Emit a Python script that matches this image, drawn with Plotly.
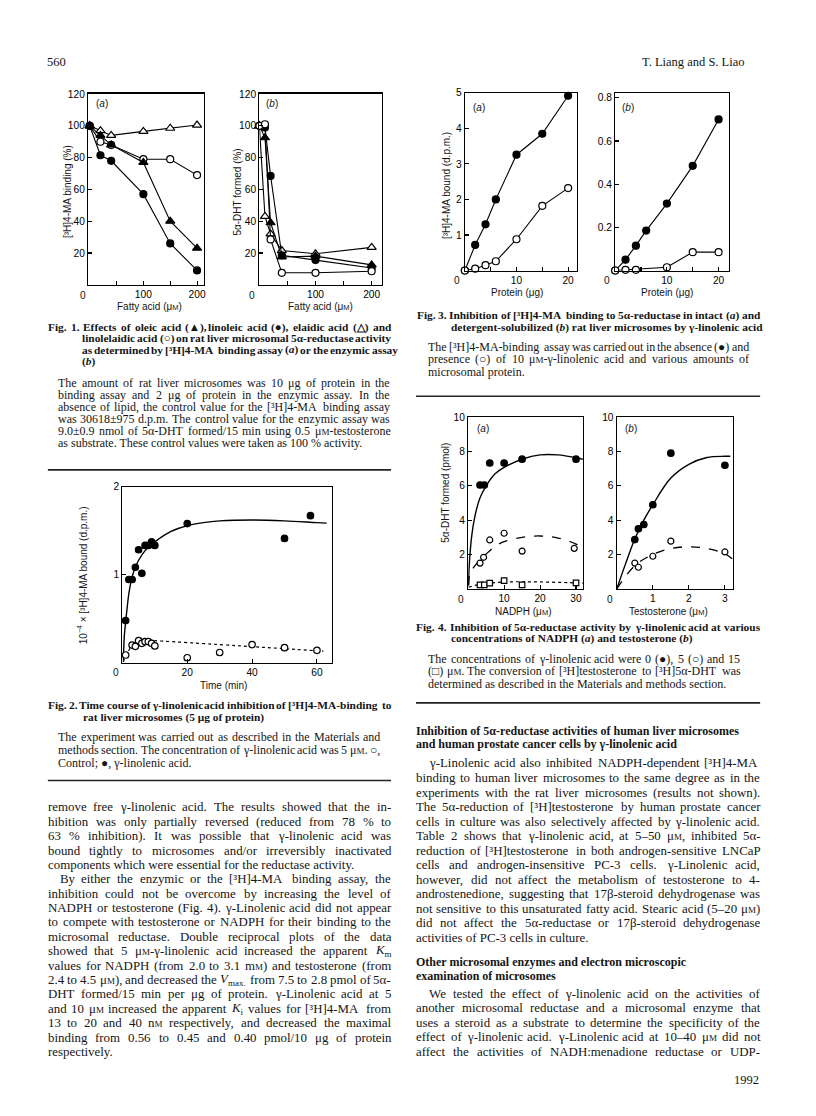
import re
import plotly.graph_objects as go

W, H = 816, 1116

# ---------------- DATA ----------------
# Fig. 1 (a) [3H]4-MA binding (%)
fig1a_acid = [0, 20, 40, 100, 150, 200]
fig1a_oleic = [100, 94, 88, 77, 40, 23]
fig1a_linoleic = [100, 81.5, 78, 57, 26, 9]
fig1a_elaidic = [100, 97, 94, 96.5, 98.5, 100.5]
fig1a_linolelaidic = [100, 90, 88, 79, 79, 69]
# Fig. 1 (b) 5a-DHT formed (%)
fig1b_acid = [0, 10, 20, 40, 100, 200]
fig1b_oleic = [100, 92.5, 39, 17.5, 18, 12.5]
fig1b_linoleic = [100, 99, 68.5, 18.5, 15.5, 10.5]
fig1b_elaidic = [100, 43, 32, 21.5, 19.5, 23.5]
fig1b_linolelaidic = [100, 101, 28.5, 7.5, 7.5, 8.5]

# Fig. 2 time course
fig2_time_gla = [1, 2, 3, 4, 5, 6, 7, 8, 9, 10, 20, 50, 58]
fig2_bound_gla = [0.47, 0.94, 0.94, 1.08, 1.28, 1.01, 1.33, 1.33, 1.37, 1.33, 1.58, 1.41, 1.67]
fig2_time_ctrl = [1, 3, 4, 5, 6, 7, 8, 9, 10, 20, 30, 40, 50, 60]
fig2_bound_ctrl = [0.076, 0.19, 0.175, 0.24, 0.21, 0.23, 0.23, 0.21, 0.18, 0.045, 0.105, 0.195, 0.16, 0.13]
fig2_curve_gla_t = [0.3, 0.6, 1, 2, 3, 4, 5, 7, 10, 15, 20, 25, 30, 40, 50, 60, 63]
fig2_curve_gla_y = [0.0, 0.3, 0.45, 0.78, 0.97, 1.08, 1.16, 1.27, 1.37, 1.49, 1.555, 1.59, 1.61, 1.62, 1.61, 1.59, 1.585]
fig2_curve_ctrl_t = [0.3, 1, 2, 3, 5, 7, 10, 62]
fig2_curve_ctrl_y = [0.0, 0.07, 0.13, 0.18, 0.23, 0.245, 0.24, 0.12]

# Fig. 3 protein titration
fig3_protein = [0, 2, 4, 6, 10, 15, 20]
fig3a_absent = [0, 0.72, 1.3, 2.0, 3.26, 3.85, 4.92]
fig3a_present = [0, 0.05, 0.15, 0.26, 0.88, 1.82, 2.32]
fig3b_absent = [0, 0.05, 0.115, 0.185, 0.31, 0.485, 0.70]
fig3b_protein_present = [0, 2, 4, 10, 15, 20]
fig3b_present = [0, 0.003, 0.003, 0.015, 0.085, 0.085]

# Fig. 4 (a) NADPH
fig4a_nadph_0 = [3.3, 4.5, 6, 10, 15, 30]
fig4a_dht_0 = [6.05, 6.05, 7.33, 7.33, 7.55, 7.55]
fig4a_nadph_5 = [3.3, 4.3, 6, 10, 15, 29.5]
fig4a_dht_5 = [1.5, 1.84, 2.85, 3.24, 2.2, 2.36]
fig4a_nadph_15 = [3.3, 4.5, 6, 10, 15, 30]
fig4a_dht_15 = [0.23, 0.23, 0.33, 0.48, 0.23, 0.35]
fig4a_curve0_x = [0.1, 0.3, 1, 1.9, 3.2, 5, 7.5, 10, 15, 20, 25, 30, 31.9]
fig4a_curve0_y = [0.2, 1.35, 3.1, 4.25, 5.25, 6.0, 6.7, 7.07, 7.55, 7.8, 7.8, 7.64, 7.55]
fig4a_curve5_x = [0.1, 0.55, 1.9, 3.2, 5, 7.5, 10, 15, 20, 25, 30, 31.9]
fig4a_curve5_y = [0.2, 0.9, 1.35, 1.65, 2.03, 2.48, 2.75, 3.0, 3.08, 2.96, 2.61, 2.33]
fig4a_curve15_x = [0.1, 3, 10, 30, 31.9]
fig4a_curve15_y = [0.1, 0.25, 0.4, 0.35, 0.33]

# Fig. 4 (b) testosterone
fig4b_testo_0 = [0.5, 0.6, 0.75, 1.0, 1.5, 3.0]
fig4b_dht_0 = [2.87, 3.5, 3.75, 4.9, 7.9, 7.2]
fig4b_testo_5 = [0.5, 0.6, 1.0, 1.5, 3.0]
fig4b_dht_5 = [1.5, 1.26, 1.9, 2.78, 2.15]
fig4b_curve0_x = [0.0, 0.25, 0.5, 0.75, 1.0, 1.5, 2.0, 2.5, 3.0, 3.15]
fig4b_curve0_y = [0.0, 1.5, 2.9, 4.0, 4.9, 6.45, 7.25, 7.65, 7.72, 7.72]
fig4b_curve5_x = [0.0, 0.5, 1.0, 1.5, 2.0, 2.5, 3.0, 3.2]
fig4b_curve5_y = [0.0, 1.35, 2.0, 2.35, 2.45, 2.35, 2.05, 1.75]

# ---------------- STYLE HELPERS ----------------
SERIF = "Liberation Serif, Times New Roman, serif"
SANS = "Liberation Sans, Arial, sans-serif"
INK = "#151515"
M = '<span style="font-size:7.5px">M</span>'     # small-capital M (molar), figure labels
Ms = '<span style="font-size:9px">M</span>'      # small-capital M, running text
TICK = 10.2
ATI = 10.0

# Times-compatible advance widths (1/1000 em), used to justify the running text
_REG = dict(zip("abcdefghijklmnopqrstuvwxyz",
                [444, 500, 444, 500, 444, 333, 500, 500, 278, 278, 500, 278, 778, 500, 500, 500, 500,
                 333, 389, 278, 500, 500, 722, 500, 500, 444]))
_REG.update(zip("ABCDEFGHIJKLMNOPQRSTUVWXYZ",
                [722, 667, 667, 722, 611, 556, 722, 722, 333, 389, 722, 611, 889, 722, 722, 556, 722,
                 667, 556, 611, 722, 722, 944, 722, 722, 611]))
_BOLD = dict(zip("abcdefghijklmnopqrstuvwxyz",
                 [500, 556, 444, 556, 444, 333, 500, 556, 278, 333, 556, 278, 833, 556, 500, 556, 556,
                  444, 389, 333, 556, 500, 722, 500, 500, 444]))
_BOLD.update(zip("ABCDEFGHIJKLMNOPQRSTUVWXYZ",
                 [722, 667, 722, 722, 667, 611, 778, 778, 389, 500, 778, 667, 944, 722, 778, 611, 778,
                  722, 556, 667, 722, 722, 1000, 722, 722, 667]))
_PUNCT = {" ": 250, ".": 250, ",": 250, "-": 333, "(": 333, ")": 333, "[": 333, "]": 333,
          "/": 278, ":": 278, ";": 278, "%": 833, "±": 564, "–": 500, "γ": 440, "μ": 520,
          "α": 530, "β": 500, "³": 300, "●": 604, "○": 604, "□": 604, "▲": 722, "△": 722}


def _cw(c, bold):
    if c.isdigit():
        return 500
    if c in _PUNCT:
        return _PUNCT[c]
    return (_BOLD if bold else _REG).get(c, 500)


def measure(html, size, bold=False):
    sub, spans = 0, []
    w = 0.0
    for tok in re.split(r"(<[^>]+>)", html):
        if tok.startswith("<"):
            t = tok.lower()
            if t.startswith("<sub>") or t.startswith("<sup>"):
                sub += 1
            elif t.startswith("</sub>") or t.startswith("</sup>"):
                sub -= 1
            elif t.startswith("<span"):
                mm = re.search(r"font-size:([\d.]+)px", tok)
                spans.append(float(mm.group(1)) if mm else None)
            elif t.startswith("</span"):
                spans.pop()
            continue
        s = size
        for v in spans:
            if v:
                s = v
        if sub:
            s *= 0.7
        for c in tok:
            w += _cw(c, bold) * s / 1000.0
    return w


def split_words(html):
    words, cur, intag = [], "", False
    for c in html:
        if c == "<":
            intag = True
        elif c == ">":
            intag = False
        if c == " " and not intag:
            if cur:
                words.append(cur)
            cur = ""
        else:
            cur += c
    if cur:
        words.append(cur)
    return words


fig = go.Figure()
layout = {}
annotations = []
shapes = []


def ann(text, x, y, size=12, family=SERIF, anchor="left", angle=0, color=INK):
    annotations.append(dict(text=text, x=x / W, y=1 - y / H, xref="paper", yref="paper",
                            xanchor=anchor, yanchor="middle", showarrow=False,
                            borderpad=0, borderwidth=0,
                            textangle=angle, font=dict(family=family, size=size, color=color)))


def jline(text, x0, x1, y, size, justify=True, bold=False):
    """A line of running text from x0; justified lines are spread word by word to end at x1."""
    wrap = (lambda s: "<b>" + s + "</b>") if bold else (lambda s: s)
    words = split_words(text)
    if not justify or len(words) < 2:
        ann(wrap(text), x0, y, size)
        return
    widths = [measure(w, size, bold) for w in words]
    gap = max(2.0, (x1 - x0 - sum(widths)) / (len(words) - 1))
    x = x0
    for w, wd in zip(words, widths):
        ann(wrap(w), x, y, size)
        x += wd + gap


def rule(x0, x1, y):
    shapes.append(dict(type="line", xref="paper", yref="paper", x0=x0 / W, x1=x1 / W,
                       y0=1 - y / H, y1=1 - y / H, line=dict(color="#222", width=1.6)))


def panel(i, box, xr, yr, xt, xminor, yt, yminor=None):
    x0, x1, y0, y1 = box
    sx = "" if i == 1 else str(i)
    common = dict(showline=True, linecolor="black", linewidth=1.2, mirror=True,
                  ticks="inside", ticklen=4, tickcolor="black", tickwidth=1.1,
                  showgrid=False, zeroline=False, ticklabelstandoff=0,
                  tickfont=dict(family=SANS, size=TICK, color="black"))
    xa = dict(domain=[x0 / W, x1 / W], anchor="y" + sx, range=xr,
              tickmode="array", tickvals=xt, ticktext=[f"{v:g}" for v in xt], **common)
    if xminor:
        xa["minor"] = dict(tickmode="array", tickvals=xminor, ticks="inside", ticklen=4,
                           tickcolor="black", tickwidth=1.1, showgrid=False)
    ya = dict(domain=[1 - y1 / H, 1 - y0 / H], anchor="x" + sx, range=yr,
              tickmode="array", tickvals=yt, ticktext=[f"{v:g}" for v in yt], **common)
    if yminor:
        ya["minor"] = dict(tickmode="array", tickvals=yminor, ticks="inside", ticklen=4,
                           tickcolor="black", tickwidth=1.1, showgrid=False)
    layout["xaxis" + sx] = xa
    layout["yaxis" + sx] = ya
    return "x" + sx, "y" + sx


def series(ax, x, y, symbol, filled, size=7, mode="lines+markers", lw=1.1):
    fig.add_trace(go.Scatter(
        x=x, y=y, xaxis=ax[0], yaxis=ax[1], mode=mode, cliponaxis=False,
        line=dict(color="black", width=lw),
        marker=dict(symbol=symbol, size=size, color="black" if filled else "white",
                    line=dict(color="black", width=1.2)),
        showlegend=False, hoverinfo="skip"))


def curve(ax, x, y, dash="solid", lw=1.3):
    fig.add_trace(go.Scatter(
        x=x, y=y, xaxis=ax[0], yaxis=ax[1], mode="lines", line_shape="spline",
        line=dict(color="black", width=lw, dash=dash), showlegend=False, hoverinfo="skip"))


# ---------------- FIG 1 ----------------
ax1a = panel(1, (88.3, 204, 89, 281), [-3, 212], [0, 120.3],
             [100, 200], [50, 150], [20, 40, 60, 80, 100, 120])
ax1b = panel(2, (260, 382.7, 89, 281), [0, 218], [0, 120.3],
             [100, 200], [50, 150], [20, 40, 60, 80, 100, 120])
series(ax1a, fig1a_acid, fig1a_elaidic, "triangle-up", False, 8)
series(ax1a, fig1a_acid, fig1a_linolelaidic, "circle", False, 7)
series(ax1a, fig1a_acid, fig1a_oleic, "triangle-up", True, 8)
series(ax1a, fig1a_acid, fig1a_linoleic, "circle", True, 7)
series(ax1b, fig1b_acid, fig1b_elaidic, "triangle-up", False, 8)
series(ax1b, fig1b_acid, fig1b_oleic, "triangle-up", True, 8)
series(ax1b, fig1b_acid, fig1b_linoleic, "circle", True, 7)
series(ax1b, fig1b_acid, fig1b_linolelaidic, "circle", False, 7)
ann("(<i>a</i>)", 96, 99, 10, SANS)
ann("(<i>b</i>)", 267, 99, 10, SANS)
ann("0", 83, 291.5, TICK, SANS, "center")
ann("0", 253, 291.5, TICK, SANS, "center")
ann("[³H]4-MA binding (%)", 67, 187, ATI, SANS, "center", -90)
ann("5α-DHT formed (%)", 238, 188, ATI, SANS, "center", -90)
ann("Fatty acid (μ" + M + ")", 150, 303, ATI, SANS, "center")
ann("Fatty acid (μ" + M + ")", 321.5, 303, ATI, SANS, "center")

# ---------------- FIG 2 ----------------
ax2 = panel(3, (122.7, 333, 484, 660.5), [0, 64.7], [-0.01, 2.0],
            [20, 40, 60], None, [1, 2])
curve(ax2, fig2_curve_gla_t, fig2_curve_gla_y, "solid", 1.4)
curve(ax2, fig2_curve_ctrl_t, fig2_curve_ctrl_y, "dot", 1.2)
series(ax2, fig2_time_gla, fig2_bound_gla, "circle", True, 6.5, mode="markers")
series(ax2, fig2_time_ctrl, fig2_bound_ctrl, "circle", False, 6.5, mode="markers")
ann("0", 116, 671, TICK, SANS, "center")
ann("10<sup>−4</sup> × [³H]4-MA bound (d.p.m.)", 83, 573, ATI, SANS, "center", -90)
ann("Time (min)", 224, 683.5, ATI, SANS, "center")

# ---------------- FIG 3 ----------------
ax3a = panel(4, (466, 578.3, 88.3, 266.7), [0, 21.7], [0, 5],
             [10, 20], [5, 15], [1, 2, 3, 4, 5])
ax3b = panel(5, (616.7, 730.7, 88.3, 266.7), [0, 22], [0, 0.823],
             [10, 20], [5, 15], [0.2, 0.4, 0.6, 0.8])
series(ax3a, fig3_protein, fig3a_absent, "circle", True, 7)
series(ax3a, fig3_protein, fig3a_present, "circle", False, 7)
series(ax3b, fig3_protein, fig3b_absent, "circle", True, 7)
series(ax3b, fig3b_protein_present, fig3b_present, "circle", False, 7)
ann("(<i>a</i>)", 474, 102.7, 10, SANS)
ann("(<i>b</i>)", 624, 102.7, 10, SANS)
ann("0", 458, 277, TICK, SANS, "center")
ann("0", 608, 277, TICK, SANS, "center")
ann("[³H]4-MA bound (d.p.m.)", 447, 181, ATI, SANS, "center", -90)
ann("Protein (μg)", 518, 289, ATI, SANS, "center")
ann("Protein (μg)", 669, 289, ATI, SANS, "center")

# ---------------- FIG 4 ----------------
ax4a = panel(6, (469.3, 584.3, 414, 586.5), [0, 31.9], [0, 10],
             [10, 20, 30], None, [2, 4, 6, 8, 10])
ax4b = panel(7, (618.3, 735, 414, 586.5), [0, 3.23], [0, 10],
             [1, 2, 3], None, [2, 4, 6, 8, 10])
curve(ax4a, fig4a_curve0_x, fig4a_curve0_y, "solid", 1.4)
curve(ax4a, fig4a_curve5_x, fig4a_curve5_y, "dash", 1.3)
curve(ax4a, fig4a_curve15_x, fig4a_curve15_y, "dot", 1.2)
series(ax4a, fig4a_nadph_0, fig4a_dht_0, "circle", True, 6.5, mode="markers")
series(ax4a, fig4a_nadph_5, fig4a_dht_5, "circle", False, 6, mode="markers")
series(ax4a, fig4a_nadph_15, fig4a_dht_15, "square", False, 5.5, mode="markers")
curve(ax4b, fig4b_curve0_x, fig4b_curve0_y, "solid", 1.4)
curve(ax4b, fig4b_curve5_x, fig4b_curve5_y, "dash", 1.3)
series(ax4b, fig4b_testo_0, fig4b_dht_0, "circle", True, 6.5, mode="markers")
series(ax4b, fig4b_testo_5, fig4b_dht_5, "circle", False, 6, mode="markers")
ann("(<i>a</i>)", 478, 425, 10, SANS)
ann("(<i>b</i>)", 627, 425, 10, SANS)
ann("0", 462, 597, TICK, SANS, "center")
ann("0", 611, 597, TICK, SANS, "center")
ann("5α-DHT formed (pmol)", 447, 490, ATI, SANS, "center", -90)
ann("NADPH (μ" + M + ")", 524, 609, ATI, SANS, "center")
ann("Testosterone (μ" + M + ")", 670, 609, ATI, SANS, "center")

# ---------------- PAGE TEXT ----------------
ann("560", 47, 57, 12.5)
ann("T. Liang and S. Liao", 747, 57, 12.5, anchor="right")
ann("1992", 761, 1080, 12.5, anchor="right")

CAP_T = 11.4
CAP_B = 12.0
BODY = 12.9
HEAD = 12.0

fig1_title = [
    "Fig. 1. Effects of oleic acid (▲), linoleic acid (●), elaidic acid (△) and",
    "linolelaidic acid (○) on rat liver microsomal 5α-reductase activity",
    "as determined by [³H]4-MA binding assay (<i>a</i>) or the enzymic assay",
    "(<i>b</i>)",
]
for k, t in enumerate(fig1_title):
    jline(t, 48 if k == 0 else 82, 392, 323.5 + 11.5 * k, CAP_T, k < 3, bold=True)
fig1_body = [
    "The amount of rat liver microsomes was 10 μg of protein in the",
    "binding assay and 2 μg of protein in the enzymic assay. In the",
    "absence of lipid, the control value for the [³H]4-MA binding assay",
    "was 30618±975 d.p.m. The control value for the enzymic assay was",
    "9.0±0.9 nmol of 5α-DHT formed/15 min using 0.5 μ" + Ms + "-testosterone",
    "as substrate. These control values were taken as 100 % activity.",
]
for k, t in enumerate(fig1_body):
    jline(t, 58, 391, 380 + 12.0 * k, CAP_B, k < 5)
rule(48, 392, 467)

jline("Fig. 2. Time course of γ-linolenic acid inhibition of [³H]4-MA-binding to", 48, 392, 703.3, CAP_T, bold=True)
jline("rat liver microsomes (5 μg of protein)", 83, 392, 715.5, CAP_T, False, bold=True)
fig2_body = [
    "The experiment was carried out as described in the Materials and",
    "methods section. The concentration of γ-linolenic acid was 5 μ" + Ms + ". ○,",
    "Control; ●, γ-linolenic acid.",
]
for k, t in enumerate(fig2_body):
    jline(t, 58, 381, 735 + 13 * k, CAP_B, k < 2)
rule(48, 392, 779)

left_body = [
    "remove free γ-linolenic acid. The results showed that the in-",
    "hibition was only partially reversed (reduced from 78 % to",
    "63 % inhibition). It was possible that γ-linolenic acid was",
    "bound tightly to microsomes and/or irreversibly inactivated",
    "components which were essential for the reductase activity.",
    "By either the enzymic or the [³H]4-MA binding assay, the",
    "inhibition could not be overcome by increasing the level of",
    "NADPH or testosterone (Fig. 4). γ-Linolenic acid did not appear",
    "to compete with testosterone or NADPH for their binding to the",
    "microsomal reductase. Double reciprocal plots of the data",
    "showed that 5 μ" + Ms + "-γ-linolenic acid increased the apparent <i>K</i><sub>m</sub>",
    "values for NADPH (from 2.0 to 3.1 m" + Ms + ") and testosterone (from",
    "2.4 to 4.5 μ" + Ms + "), and decreased the <i>V</i><sub>max.</sub> from 7.5 to 2.8 pmol of 5α-",
    "DHT formed/15 min per μg of protein. γ-Linolenic acid at 5",
    "and 10 μ" + Ms + " increased the apparent <i>K</i><sub>i</sub> values for [³H]4-MA from",
    "13 to 20 and 40 n" + Ms + " respectively, and decreased the maximal",
    "binding from 0.56 to 0.45 and 0.40 pmol/10 μg of protein",
    "respectively.",
]
for k, t in enumerate(left_body):
    jline(t, 60 if k == 5 else 48, 392, 806 + 14.45 * k, BODY, k not in (4, 17))

# right column captions
jline("Fig. 3. Inhibition of [³H]4-MA binding to 5α-reductase in intact (<i>a</i>) and", 418, 762, 311.7, CAP_T, bold=True)
jline("detergent-solubilized (<i>b</i>) rat liver microsomes by γ-linolenic acid", 452, 762, 324, CAP_T, False, bold=True)
fig3_body = [
    "The [³H]4-MA-binding assay was carried out in the absence (●) and",
    "presence (○) of 10 μ" + Ms + "-γ-linolenic acid and various amounts of",
    "microsomal protein.",
]
for k, t in enumerate(fig3_body):
    jline(t, 429, 751, 343.3 + 12.5 * k, CAP_B, k < 2)
rule(417, 762, 393)

jline("Fig. 4. Inhibition of 5α-reductase activity by γ-linolenic acid at various", 417, 762, 625, CAP_T, bold=True)
jline("concentrations of NADPH (<i>a</i>) and testosterone (<i>b</i>)", 452, 762, 636.7, CAP_T, False, bold=True)
fig4_body = [
    "The concentrations of γ-linolenic acid were 0 (●), 5 (○) and 15",
    "(□) μ" + Ms + ". The conversion of [³H]testosterone to [³H]5α-DHT was",
    "determined as described in the Materials and methods section.",
]
for k, t in enumerate(fig4_body):
    jline(t, 429, 742, 656.7 + 12.5 * k, CAP_B, k < 2)
rule(417, 762, 701)

jline("Inhibition of 5α-reductase activities of human liver microsomes", 417, 762, 729.3, HEAD, False, bold=True)
jline("and human prostate cancer cells by γ-linolenic acid", 417, 762, 742.7, HEAD, False, bold=True)
jline("γ-Linolenic acid also inhibited NADPH-dependent [³H]4-MA", 430, 762, 761.7, BODY)
right_body = [
    "binding to human liver microsomes to the same degree as in the",
    "experiments with the rat liver microsomes (results not shown).",
    "The 5α-reduction of [³H]testosterone by human prostate cancer",
    "cells in culture was also selectively affected by γ-linolenic acid.",
    "Table 2 shows that γ-linolenic acid, at 5–50 μ" + Ms + ", inhibited 5α-",
    "reduction of [³H]testosterone in both androgen-sensitive LNCaP",
    "cells and androgen-insensitive PC-3 cells. γ-Linolenic acid,",
    "however, did not affect the metabolism of testosterone to 4-",
    "androstenedione, suggesting that 17β-steroid dehydrogenase was",
    "not sensitive to this unsaturated fatty acid. Stearic acid (5–20 μ" + Ms + ")",
    "did not affect the 5α-reductase or 17β-steroid dehydrogenase",
    "activities of PC-3 cells in culture.",
]
for k, t in enumerate(right_body):
    jline(t, 417, 762, 776.7 + 14.55 * k, BODY, k < len(right_body) - 1)
jline("Other microsomal enzymes and electron microscopic", 417, 762, 961.7, HEAD, False, bold=True)
jline("examination of microsomes", 417, 762, 975.7, HEAD, False, bold=True)
right_body2 = [
    "We tested the effect of γ-linolenic acid on the activities of",
    "another microsomal reductase and a microsomal enzyme that",
    "uses a steroid as a substrate to determine the specificity of the",
    "effect of γ-linolenic acid. γ-Linolenic acid at 10–40 μ" + Ms + " did not",
    "affect the activities of NADH:menadione reductase or UDP-",
]
for k, t in enumerate(right_body2):
    jline(t, 430 if k == 0 else 417, 762, 993.3 + 14.5 * k, BODY)

layout.update(dict(width=W, height=H, margin=dict(l=0, r=0, t=0, b=0),
                   paper_bgcolor="white", plot_bgcolor="white", showlegend=False,
                   annotations=annotations, shapes=shapes))
fig.update_layout(**layout)
fig.write_html("out.html", config={"displayModeBar": False, "staticPlot": True},
               post_script="document.body.style.margin='0px';document.body.style.overflow='hidden';")
